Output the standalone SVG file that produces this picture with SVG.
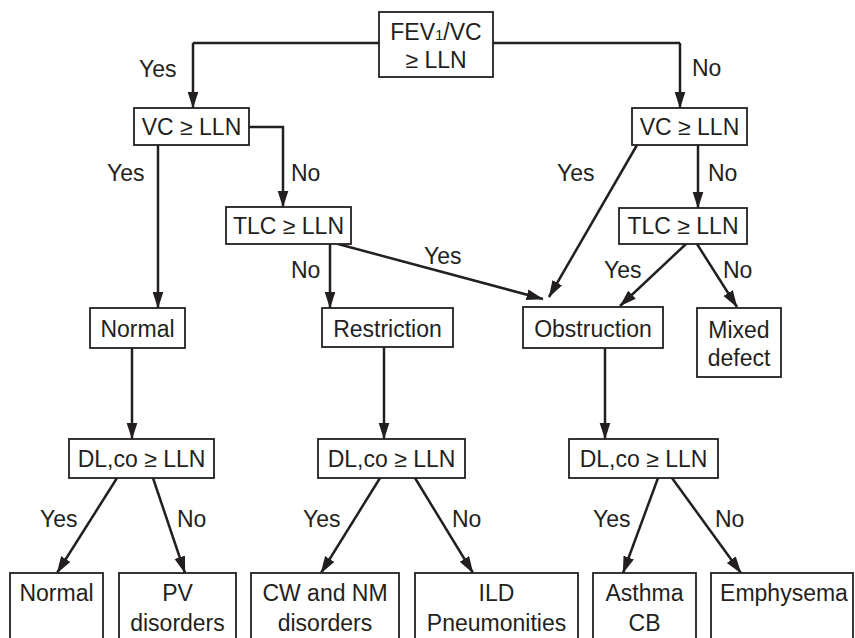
<svg xmlns="http://www.w3.org/2000/svg" width="855" height="638" viewBox="0 0 855 638">
  <style>
    .box { fill: #ffffff; stroke: #231f20; stroke-width: 1.8; }
    .t { font-family: "Liberation Sans", Arial, Helvetica, sans-serif; font-size: 23px; fill: #231f20; }
    .c { text-anchor: middle; }
    .edge { fill: none; stroke: #231f20; stroke-width: 2.5; marker-end: url(#arrow); }
    .plain { fill: none; stroke: #231f20; stroke-width: 2.5; }
  </style>
  <defs>
    <marker id="arrow" markerUnits="userSpaceOnUse" markerWidth="18" markerHeight="12" refX="16.5" refY="5.5" orient="auto">
      <path d="M0,0 L17,5.5 L0,11 Z" fill="#231f20"/>
    </marker>
  </defs>
  <rect width="855" height="638" fill="#ffffff"/>

  <!-- connectors -->
  <g id="connectors">
    <path class="plain" d="M379,43 H193"/>
    <path class="edge" d="M193,43 V108"/>
    <path class="plain" d="M493,43 H680"/>
    <path class="edge" d="M680,43 V108"/>
    <path class="edge" d="M158,145 V308"/>
    <path class="edge" d="M249,127 H283 V207"/>
    <path class="edge" d="M330,244 V308"/>
    <path class="edge" d="M338,244 L543,299"/>
    <path class="edge" d="M637,145 L549,297"/>
    <path class="edge" d="M698,145 V208"/>
    <path class="edge" d="M686,244 L620,306"/>
    <path class="edge" d="M697,244 L737,307"/>
    <path class="edge" d="M132,348 V439"/>
    <path class="edge" d="M384,347 V439"/>
    <path class="edge" d="M605,348 V439"/>
    <path class="edge" d="M117,478 L57,573"/>
    <path class="edge" d="M153,478 L185,573"/>
    <path class="edge" d="M380,478 L321,573"/>
    <path class="edge" d="M415,478 L473,573"/>
    <path class="edge" d="M658,478 L623,573"/>
    <path class="edge" d="M672,478 L741,573"/>
  </g>

  <!-- branch labels -->
  <g id="edge-labels" class="t">
    <text x="139" y="77">Yes</text>
    <text x="692" y="76">No</text>
    <text x="107" y="181">Yes</text>
    <text x="291" y="181">No</text>
    <text x="291" y="278">No</text>
    <text x="424" y="264">Yes</text>
    <text x="557" y="181">Yes</text>
    <text x="708" y="181">No</text>
    <text x="604" y="278">Yes</text>
    <text x="723" y="278">No</text>
    <text x="40" y="527">Yes</text>
    <text x="177" y="527">No</text>
    <text x="303" y="527">Yes</text>
    <text x="452" y="527">No</text>
    <text x="593" y="527">Yes</text>
    <text x="715" y="527">No</text>
  </g>

  <!-- decision nodes -->
  <g id="fev1-vc">
    <rect class="box" x="379" y="12" width="114" height="65"/>
    <text class="t c" x="436" y="40">FEV<tspan font-size="15">1</tspan>/VC</text>
    <text class="t c" x="436" y="68">≥ LLN</text>
  </g>
  <g id="vc-left">
    <rect class="box" x="134" y="108" width="115" height="37"/>
    <text class="t c" x="191.5" y="135">VC ≥ LLN</text>
  </g>
  <g id="vc-right">
    <rect class="box" x="632" y="108" width="115" height="37"/>
    <text class="t c" x="689.5" y="135">VC ≥ LLN</text>
  </g>
  <g id="tlc-left">
    <rect class="box" x="226" y="207" width="125" height="37"/>
    <text class="t c" x="288.5" y="234">TLC ≥ LLN</text>
  </g>
  <g id="tlc-right">
    <rect class="box" x="619" y="208" width="128" height="36"/>
    <text class="t c" x="683" y="234">TLC ≥ LLN</text>
  </g>

  <!-- pattern nodes -->
  <g id="normal-pattern">
    <rect class="box" x="90" y="308" width="95" height="40"/>
    <text class="t c" x="137.5" y="337">Normal</text>
  </g>
  <g id="restriction">
    <rect class="box" x="322" y="308" width="131" height="39"/>
    <text class="t c" x="387.5" y="337">Restriction</text>
  </g>
  <g id="obstruction">
    <rect class="box" x="523" y="307" width="140" height="41"/>
    <text class="t c" x="593" y="337">Obstruction</text>
  </g>
  <g id="mixed-defect">
    <rect class="box" x="697" y="308" width="84" height="69"/>
    <text class="t c" x="739" y="338">Mixed</text>
    <text class="t c" x="739" y="366">defect</text>
  </g>

  <!-- diffusion nodes -->
  <g id="dlco-1">
    <rect class="box" x="69" y="439" width="145" height="39"/>
    <text class="t c" x="141.5" y="467">DL,co ≥ LLN</text>
  </g>
  <g id="dlco-2">
    <rect class="box" x="318" y="439" width="147" height="39"/>
    <text class="t c" x="391.5" y="467">DL,co ≥ LLN</text>
  </g>
  <g id="dlco-3">
    <rect class="box" x="569" y="439" width="149" height="39"/>
    <text class="t c" x="643.5" y="467">DL,co ≥ LLN</text>
  </g>

  <!-- outcome nodes -->
  <g id="out-normal">
    <rect class="box" x="10" y="573" width="93" height="70"/>
    <text class="t c" x="56.5" y="601">Normal</text>
  </g>
  <g id="out-pv">
    <rect class="box" x="119" y="573" width="117" height="70"/>
    <text class="t c" x="177.5" y="601">PV</text>
    <text class="t c" x="177.5" y="631">disorders</text>
  </g>
  <g id="out-cw-nm">
    <rect class="box" x="251" y="573" width="148" height="70"/>
    <text class="t c" x="325" y="601">CW and NM</text>
    <text class="t c" x="325" y="631">disorders</text>
  </g>
  <g id="out-ild">
    <rect class="box" x="415" y="573" width="163" height="70"/>
    <text class="t c" x="496.5" y="601">ILD</text>
    <text class="t c" x="496.5" y="631">Pneumonities</text>
  </g>
  <g id="out-asthma">
    <rect class="box" x="593" y="573" width="103" height="70"/>
    <text class="t c" x="644.5" y="601">Asthma</text>
    <text class="t c" x="644.5" y="631">CB</text>
  </g>
  <g id="out-emphysema">
    <rect class="box" x="711" y="573" width="142" height="70"/>
    <text class="t c" x="784" y="601">Emphysema</text>
  </g>
</svg>
